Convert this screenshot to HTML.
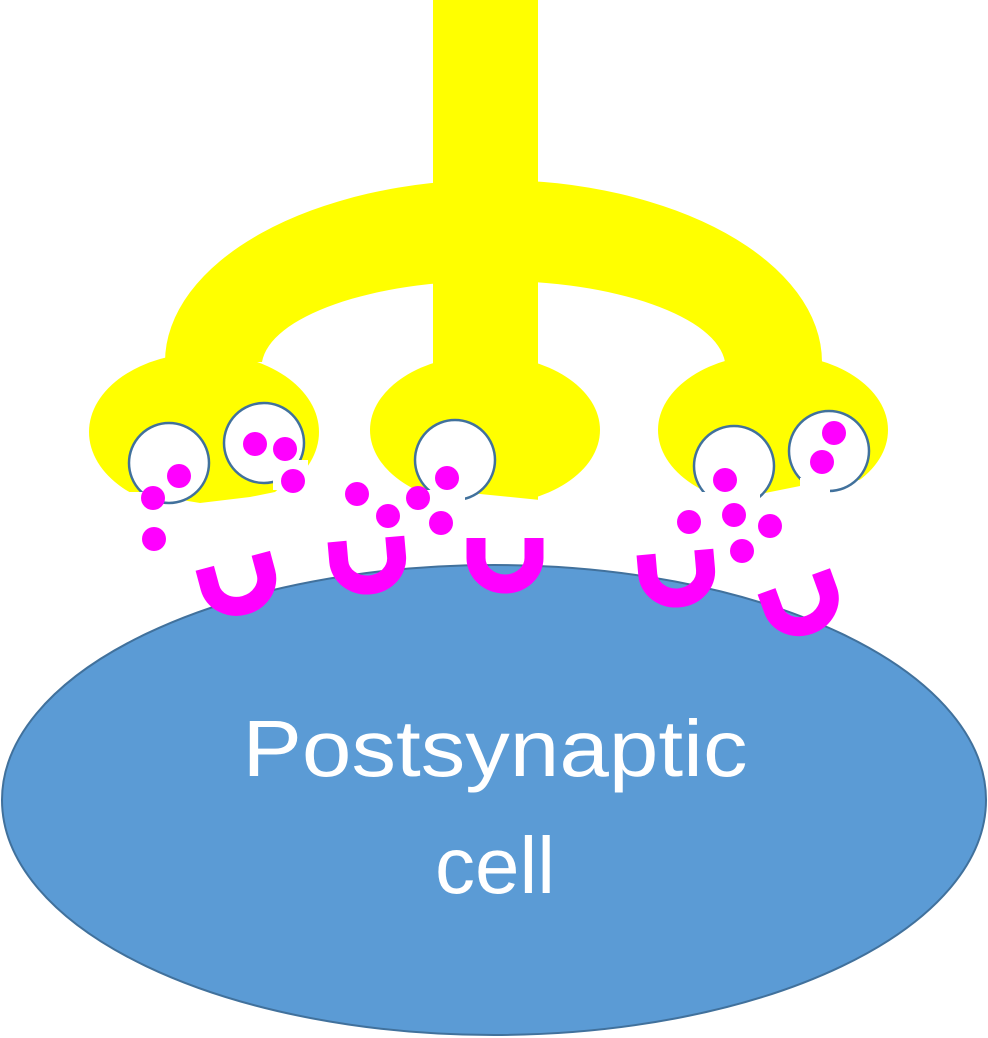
<!DOCTYPE html>
<html><head><meta charset="utf-8"><style>html,body{margin:0;padding:0;background:#fff}svg{display:block}</style></head>
<body>
<svg width="988" height="1038" viewBox="0 0 988 1038" xmlns="http://www.w3.org/2000/svg">
<rect width="988" height="1038" fill="#fff"/>
<ellipse cx="494" cy="800" rx="492" ry="235" fill="#5b9bd5" stroke="#41719c" stroke-width="2"/>
<g fill="#fff" font-family="'Liberation Sans', sans-serif" font-size="80" text-anchor="middle">
<text x="495" y="776" textLength="505" lengthAdjust="spacingAndGlyphs">Postsynaptic</text>
<text x="495" y="893">cell</text>
</g>
<g fill="#ffff00">
<rect x="433" y="0" width="105" height="500"/>
<path d="M165,362 A328,182 0 0 1 822,362 L725,362 A232,87 0 0 0 262,362 Z"/>
<ellipse cx="204" cy="432" rx="115" ry="79"/>
<ellipse cx="485" cy="430" rx="115" ry="75"/>
<ellipse cx="773" cy="430" rx="115" ry="76"/>
</g>
<g fill="#fff">
<polygon points="130,492 150,492 170,498 200,503 250,497 275,492 300,470 320,470 330,520 80,520"/>
<polygon points="370,492 400,490 460,492 540,500 600,480 620,520 360,520"/>
<polygon points="660,490 700,488 760,494 830,480 870,480 880,520 650,520"/>
</g>
<g fill="#fff" stroke="#41719c" stroke-width="2.5">
<circle cx="169" cy="463" r="40"/>
<circle cx="264" cy="443" r="40"/>
<circle cx="455" cy="460" r="40"/>
<circle cx="734" cy="466" r="40"/>
<circle cx="829" cy="451" r="40"/>
</g>
<g fill="#fff">
<rect x="130" y="492" width="30" height="20"/>
<rect x="273" y="460" width="35" height="30"/>
<rect x="420" y="490" width="45" height="20"/>
<rect x="700" y="492" width="60" height="20"/>
<rect x="800" y="478" width="30" height="20"/>
</g>
<g fill="#ff00ff">
<circle cx="179" cy="476" r="12"/><circle cx="153" cy="498" r="12"/><circle cx="154" cy="539" r="12"/>
<circle cx="255" cy="444" r="12"/><circle cx="285" cy="449" r="12"/><circle cx="293" cy="481" r="12"/>
<circle cx="357" cy="494" r="12"/><circle cx="388" cy="516" r="12"/><circle cx="418" cy="498" r="12"/>
<circle cx="447" cy="478" r="12"/><circle cx="441" cy="523" r="12"/>
<circle cx="725" cy="480" r="12"/><circle cx="689" cy="522" r="12"/><circle cx="734" cy="515" r="12"/>
<circle cx="770" cy="526" r="12"/><circle cx="742" cy="551" r="12"/>
<circle cx="822" cy="462" r="12"/><circle cx="834" cy="433" r="12"/>
</g>
<g fill="none" stroke="#ff00ff" stroke-width="19">
<path d="M-29,-24 L-29,-4 A29,26 0 0 0 29,-4 L29,-24" transform="translate(239,584) rotate(-15)"/>
<path d="M-29,-24 L-29,-4 A29,26 0 0 0 29,-4 L29,-24" transform="translate(368,563) rotate(-5)"/>
<path d="M-29,-24 L-29,-4 A29,26 0 0 0 29,-4 L29,-24" transform="translate(505,562)"/>
<path d="M-29,-24 L-29,-4 A29,26 0 0 0 29,-4 L29,-24" transform="translate(677,576) rotate(-5)"/>
<path d="M-29,-24 L-29,-4 A29,26 0 0 0 29,-4 L29,-24" transform="translate(802,604) rotate(-20)"/>
</g>
</svg>
</body></html>
